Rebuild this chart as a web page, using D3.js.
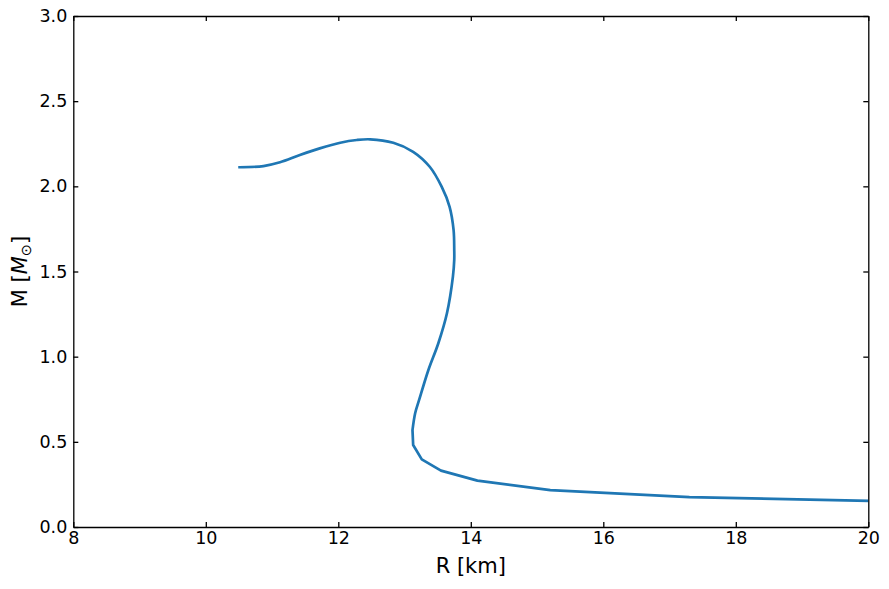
<!DOCTYPE html>
<html>
<head>
<meta charset="utf-8">
<script src="https://cdnjs.cloudflare.com/ajax/libs/d3/7.8.5/d3.min.js"></script>
<style>
  body { margin: 0; background: #fff; }
  text { font-family: "DejaVu Sans", sans-serif; }
</style>
</head>
<body>
<svg width="889" height="589"></svg>
<script>
// mass-radius curve
var radius = [10.51, 10.87, 11.12, 11.42, 11.72, 12.03, 12.28, 12.48, 12.83, 13.13,
              13.38, 13.56, 13.68, 13.74, 13.75, 13.75, 13.73, 13.64, 13.51, 13.36,
              13.22, 13.16, 13.12, 13.13, 13.26, 13.55, 14.10, 15.20, 17.30, 20.00];
var mass = [2.112, 2.119, 2.141, 2.184, 2.223, 2.256, 2.272, 2.276, 2.256, 2.203,
            2.115, 1.998, 1.880, 1.744, 1.626, 1.568, 1.470, 1.255, 1.079, 0.922,
            0.746, 0.668, 0.569, 0.481, 0.397, 0.331, 0.272, 0.217, 0.175, 0.154];
var xTicks = [8, 10, 12, 14, 16, 18, 20];
var yTicks = [0, 0.5, 1.0, 1.5, 2.0, 2.5, 3.0];

var svg = d3.select("svg"),
    margin = {left: 73.3, top: 16, right: 889 - 868.3, bottom: 589 - 527},
    width = 889 - margin.left - margin.right,
    height = 589 - margin.top - margin.bottom;

var g = svg.append("g").attr("transform", "translate(" + margin.left + "," + margin.top + ")");

var x = d3.scaleLinear().domain([8, 20]).range([0, width]);
var y = d3.scaleLinear().domain([0, 3]).range([height, 0]);

g.append("clipPath").attr("id", "clip")
  .append("rect").attr("width", width).attr("height", height);

var pts = radius.map(function(r, i) { return [r, mass[i]]; });
// densely sampled upper branch looks smooth, sparse low-mass tail is straight segments
var split = 22;
var smooth = d3.line()
    .x(function(d) { return x(d[0]); })
    .y(function(d) { return y(d[1]); })
    .curve(d3.curveCatmullRom.alpha(0.5));
var straight = d3.line()
    .x(function(d) { return x(d[0]); })
    .y(function(d) { return y(d[1]); });

g.append("path")
    .attr("clip-path", "url(#clip)")
    .attr("fill", "none")
    .attr("stroke", "#1f77b4")
    .attr("stroke-width", 2.7)
    .attr("stroke-linejoin", "round")
    .attr("stroke-linecap", "square")
    .attr("d", smooth(pts.slice(0, split + 1)) + straight(pts.slice(split)).replace(/^M/, "L"));

function style(ax) {
  ax.select(".domain").attr("stroke", "#000").attr("stroke-width", 1.3);
  ax.selectAll(".tick line").attr("stroke", "#000").attr("stroke-width", 1.3);
  ax.selectAll(".tick text").attr("font-size", "17.5px").attr("fill", "#000")
    .attr("font-family", "DejaVu Sans, sans-serif");
}

var ax;
ax = g.append("g").attr("transform", "translate(0," + height + ")")
  .call(d3.axisBottom(x).tickValues(xTicks).tickSize(-5).tickSizeOuter(0).tickPadding(5).tickFormat(d3.format("d")));
style(ax);
ax = g.append("g")
  .call(d3.axisTop(x).tickValues(xTicks).tickSize(-5).tickSizeOuter(0).tickFormat(""));
style(ax);
ax = g.append("g")
  .call(d3.axisLeft(y).tickValues(yTicks).tickSize(-5).tickSizeOuter(0).tickPadding(6).tickFormat(d3.format(".1f")));
style(ax);
ax = g.append("g").attr("transform", "translate(" + width + ",0)")
  .call(d3.axisRight(y).tickValues(yTicks).tickSize(-5).tickSizeOuter(0).tickFormat(""));
style(ax);

svg.append("text")
    .attr("x", margin.left + width / 2)
    .attr("y", 573)
    .attr("text-anchor", "middle")
    .attr("font-size", "21px")
    .text("R [km]");

var yl = svg.append("text")
    .attr("transform", "translate(27," + (margin.top + height / 2) + ") rotate(-90)")
    .attr("text-anchor", "middle")
    .attr("font-size", "21px");
yl.append("tspan").text("M [");
yl.append("tspan").attr("font-style", "italic").text("M");
yl.append("tspan").attr("font-size", "14.5px").attr("dy", 4).text("⊙");
yl.append("tspan").attr("dy", -4).text("]");
</script>
</body>
</html>
